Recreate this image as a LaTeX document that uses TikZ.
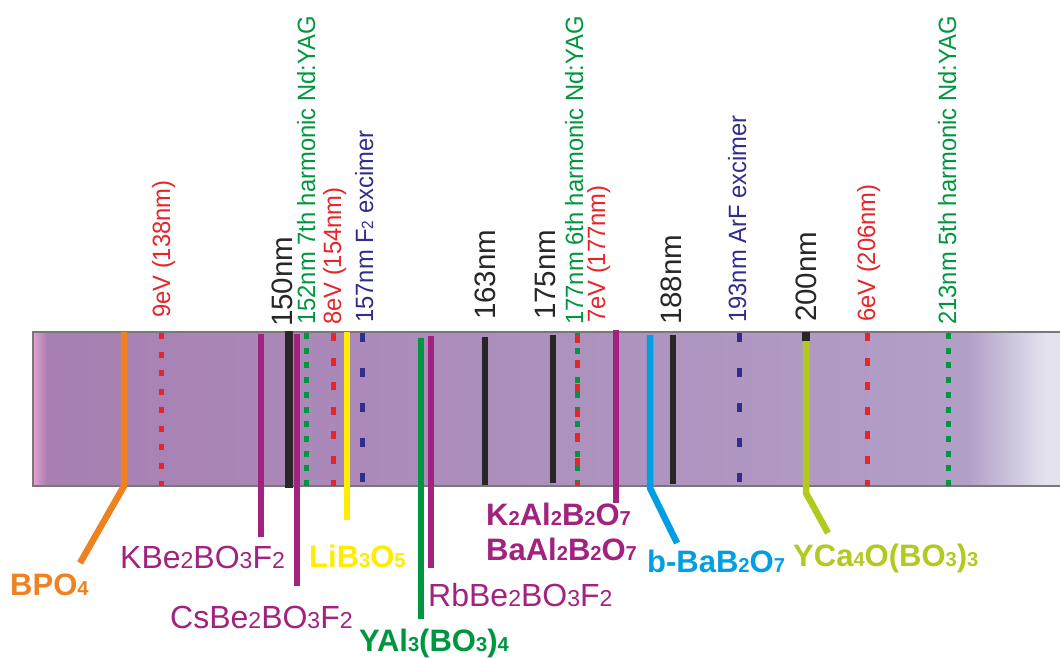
\documentclass[tikz,border=0pt]{standalone}
\usepackage{fontspec}
\setmainfont{Liberation Sans}
\newfontfamily\narrowsans[FakeStretch=0.95]{Liberation Sans}
\definecolor{bandA}{RGB}{167,127,178}
\definecolor{bandB}{RGB}{178,159,199}
\definecolor{bandC}{RGB}{228,226,238}
\definecolor{pinkL}{RGB}{226,160,208}
\definecolor{edgegray}{RGB}{120,120,120}
\definecolor{cred}{RGB}{230,36,41}
\definecolor{cgreen}{RGB}{0,150,64}
\definecolor{cnavy}{RGB}{49,45,140}
\definecolor{cblack}{RGB}{40,38,38}
\definecolor{cpurple}{RGB}{162,34,127}
\definecolor{cyellow}{RGB}{255,236,0}
\definecolor{corange}{RGB}{238,130,32}
\definecolor{ccyan}{RGB}{0,159,227}
\definecolor{cygreen}{RGB}{180,201,30}
\newcommand{\lowd}[1]{\scalebox{0.65}{#1}}
\newcommand{\lowr}[1]{\scalebox{0.72}{#1}}
\tikzset{
  mline/.style={line width=6.5pt},
  blackln/.style={line width=7.5pt, draw=cblack},
  redd/.style={line width=5pt, draw=cred, dash pattern=on 6pt off 12.5pt},
  redw/.style={line width=5pt, draw=cred, dash pattern=on 8pt off 16.5pt},
  greend/.style={line width=5pt, draw=cgreen, dash pattern=on 6pt off 8.7pt},
  navyd/.style={line width=5pt, draw=cnavy, dash pattern=on 8.5pt off 26.5pt},
  vlab/.style={rotate=90, anchor=base west, inner sep=0pt, font=\narrowsans\fontsize{25}{30}\selectfont},
  vbig/.style={rotate=90, anchor=base west, inner sep=0pt, font=\fontsize{29.5}{35}\selectfont, text=cblack},
  hlab/.style={anchor=base west, inner sep=0pt, font=\fontsize{32}{38}\selectfont},
  hbold/.style={hlab, font=\fontsize{31}{37}\selectfont\bfseries},
}
\begin{document}
\begin{tikzpicture}[x=1pt,y=-1pt]
\useasboundingbox (0,0) rectangle (1060,657);
\fill[white] (0,0) rectangle (1060,657);
% band
\shade[left color=pinkL, right color=bandA] (33,332) rectangle (47,486);
\shade[left color=bandA, right color=bandB] (47,332) rectangle (968,486);
\shade[left color=bandB, right color=bandC] (968,332) rectangle (1045,486);
\fill[bandC] (1045,332) rectangle (1062,486);
\draw[edgegray, line width=1.3pt] (1062,332) -- (33,332) -- (33,486) -- (1062,486);

% coordinates
\foreach \n/\x in {d9/161, d152/306, d8/333, d157/362, d177/577, d193/739, d6/867, d213/948}{
  \coordinate (\n T) at (\x,333);
  \coordinate (\n B) at (\x,486);
}
% dashed markers
\draw[redd] (d9T) -- (d9B);
\draw[greend] (d152T) -- (d152B);
\draw[redw] (d8T) -- (d8B);
\draw[navyd] (d157T) -- (d157B);
\draw[greend] (d177T) -- (d177B);
\draw[redw, dash phase=-2pt] (d177T) -- (d177B);
\draw[navyd] (d193T) -- (d193B);
\draw[redw] (d6T) -- (d6B);
\draw[greend] (d213T) -- (d213B);

% black wavelength markers
\coordinate (k150T) at (289,331); \coordinate (k150B) at (289,488);
\coordinate (k163T) at (485,337); \coordinate (k163B) at (485,485);
\coordinate (k175T) at (553,335); \coordinate (k175B) at (553,483);
\coordinate (k188T) at (673,335); \coordinate (k188B) at (673,484);
\coordinate (k200T) at (806,332); \coordinate (k200B) at (806,341);
\draw[blackln] (k150T) -- (k150B);
\draw[blackln, line width=6.5pt] (k163T) -- (k163B);
\draw[blackln, line width=6.5pt] (k175T) -- (k175B);
\draw[blackln, line width=6.5pt] (k188T) -- (k188B);
\draw[blackln] (k200T) -- (k200B);

% crystal markers
\coordinate (bpoT) at (124,332); \coordinate (bpoK) at (124,486); \coordinate (bpoE) at (80,563);
\draw[mline, corange] (bpoT) -- (bpoK) -- (bpoE);
\coordinate (kbbT) at (261,334); \coordinate (kbbE) at (261,537);
\draw[mline, cpurple] (kbbT) -- (kbbE);
\coordinate (csbT) at (297,334); \coordinate (csbE) at (297,586);
\draw[mline, cpurple] (csbT) -- (csbE);
\coordinate (lboT) at (347,332); \coordinate (lboE) at (347,520);
\draw[mline, cyellow] (lboT) -- (lboE);
\coordinate (yabT) at (421,338); \coordinate (yabE) at (421,619);
\draw[mline, cgreen] (yabT) -- (yabE);
\coordinate (rbbT) at (431,336); \coordinate (rbbE) at (431,568);
\draw[mline, cpurple] (rbbT) -- (rbbE);
\coordinate (kabT) at (616,330); \coordinate (kabE) at (616,503);
\draw[mline, cpurple] (kabT) -- (kabE);
\coordinate (bboT) at (650,335); \coordinate (bboK) at (650,488); \coordinate (bboE) at (677,543);
\draw[mline, ccyan] (bboT) -- (bboK) -- (bboE);
\coordinate (ycoT) at (806,341); \coordinate (ycoK) at (806,493); \coordinate (ycoE) at (828,533);
\draw[mline, cygreen] (ycoT) -- (ycoK) -- (ycoE);

% top labels
\node[vlab, text=cred] (l9) at (170,318) {9eV (138nm)};
\node[vbig] (l150) at (292,327) {150nm};
\node[vlab, text=cgreen] (l152) at (315,325) {152nm 7th harmonic Nd:YAG};
\node[vlab, text=cred] (l8) at (341,325) {8eV (154nm)};
\node[vlab, text=cnavy] (l157) at (373,323) {157nm F\lowd{2} excimer};
\node[vbig] (l163) at (495,320) {163nm};
\node[vbig] (l175) at (555,320) {175nm};
\node[vlab, text=cgreen] (l177) at (583,325) {177nm 6th harmonic Nd:YAG};
\node[vlab, text=cred] (l7) at (605,323) {7eV (177nm)};
\node[vbig] (l188) at (681,325) {188nm};
\node[vlab, text=cnavy] (l193) at (746,323) {193nm ArF excimer};
\node[vbig] (l200) at (816,322) {200nm};
\node[vlab, text=cred] (l6) at (875,322) {6eV (206nm)};
\node[vlab, text=cgreen] (l213) at (956,325) {213nm 5th harmonic Nd:YAG};

% bottom labels
\node[hbold, text=corange] (tbpo) at (10,595) {BPO\lowd{4}};
\node[hlab, text=cpurple] (tkbb) at (120,568) {KBe\lowr{2}BO\lowr{3}F\lowr{2}};
\node[hlab, text=cpurple] (tcsb) at (170,628) {CsBe\lowr{2}BO\lowr{3}F\lowr{2}};
\node[hbold, text=cyellow] (tlbo) at (309,567) {LiB\lowd{3}O\lowd{5}};
\node[hbold, text=cgreen] (tyab) at (359,651) {YAl\lowd{3}(BO\lowd{3})\lowd{4}};
\node[hlab, text=cpurple] (trbb) at (428,606) {RbBe\lowr{2}BO\lowr{3}F\lowr{2}};
\node[hbold, text=cpurple] (tkab) at (486,525) {K\lowd{2}Al\lowd{2}B\lowd{2}O\lowd{7}};
\node[hbold, text=cpurple] (tbab) at (486,560) {BaAl\lowd{2}B\lowd{2}O\lowd{7}};
\node[hbold, text=ccyan] (tbbo) at (647,572) {b-BaB\lowd{2}O\lowd{7}};
\node[hbold, text=cygreen] (tyco) at (793,566) {YCa\lowd{4}O(BO\lowd{3})\lowd{3}};
\end{tikzpicture}
\end{document}
